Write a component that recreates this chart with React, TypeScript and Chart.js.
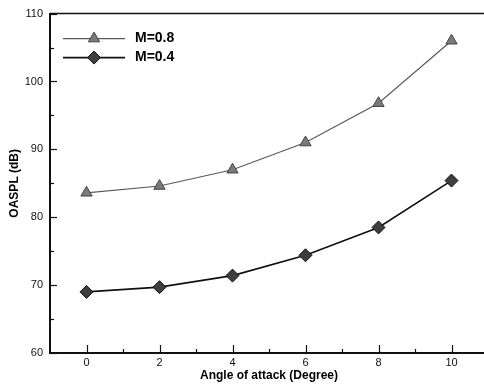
import React, { useEffect, useRef } from "react";
import { Chart, registerables } from "chart.js";
import { drawPoint } from "chart.js/helpers";

Chart.register(...registerables);

const angles = [0, 2, 4, 6, 8, 10];
const m08 = [83.6, 84.6, 87.0, 91.0, 96.8, 106.0];
const m04 = [69.0, 69.7, 71.4, 74.4, 78.5, 85.4];
const xTickValues = [0, 2, 4, 6, 8, 10];
const yTickValues = [60, 70, 80, 90, 100, 110];
const xMinorValues = [1, 3, 5, 7, 9];
const yMinorValues = [65, 75, 85, 95, 105];
const seriesLabels = ["M=0.8", "M=0.4"];

const FONT = "'Liberation Sans', Arial, Helvetica, sans-serif";

const framePlugin = {
  id: "frame",
  afterDraw(chart: any) {
    const { ctx, chartArea } = chart;
    const xs = chart.scales.x;
    const ys = chart.scales.y;
    ctx.save();
    ctx.strokeStyle = "#111";
    // top border
    ctx.lineWidth = 1.5;
    ctx.beginPath();
    ctx.moveTo(chartArea.left, chartArea.top);
    ctx.lineTo(chartArea.right, chartArea.top);
    ctx.stroke();
    // ticks
    ctx.lineWidth = 1.2;
    const bottom = chartArea.bottom;
    const left = chartArea.left;
    xTickValues.forEach((v) => {
      const px = Math.round(xs.getPixelForValue(v)) + 0.5;
      ctx.beginPath();
      ctx.moveTo(px, bottom);
      ctx.lineTo(px, bottom - 8);
      ctx.stroke();
    });
    xMinorValues.forEach((v) => {
      const px = Math.round(xs.getPixelForValue(v)) + 0.5;
      ctx.beginPath();
      ctx.moveTo(px, bottom);
      ctx.lineTo(px, bottom - 4);
      ctx.stroke();
    });
    yTickValues.forEach((v) => {
      const py = Math.round(ys.getPixelForValue(v)) + 0.5;
      ctx.beginPath();
      ctx.moveTo(left, py);
      ctx.lineTo(left + 7, py);
      ctx.stroke();
    });
    yMinorValues.forEach((v) => {
      const py = Math.round(ys.getPixelForValue(v)) + 0.5;
      ctx.beginPath();
      ctx.moveTo(left, py);
      ctx.lineTo(left + 4, py);
      ctx.stroke();
    });
    // legend
    chart.data.datasets.forEach((ds: any, i: number) => {
      const y = chartArea.top + 25 + i * 19;
      const x0 = chartArea.left + 13;
      const x1 = chartArea.left + 75;
      ctx.strokeStyle = ds.borderColor;
      ctx.lineWidth = ds.borderWidth;
      ctx.beginPath();
      ctx.moveTo(x0, y);
      ctx.lineTo(x1, y);
      ctx.stroke();
      ctx.fillStyle = ds.pointBackgroundColor;
      ctx.strokeStyle = ds.pointBorderColor;
      ctx.lineWidth = ds.pointBorderWidth;
      drawPoint(ctx, { pointStyle: ds.pointStyle, radius: ds.pointRadius, rotation: 0, borderWidth: ds.pointBorderWidth }, (x0 + x1) / 2, y);
      ctx.fillStyle = "#000";
      ctx.font = `bold 14px ${FONT}`;
      ctx.textBaseline = "middle";
      ctx.textAlign = "left";
      ctx.fillText(ds.label, chartArea.left + 85, y);
    });
    ctx.restore();
  },
};

export default function App() {
  const ref = useRef<HTMLCanvasElement | null>(null);
  useEffect(() => {
    if (!ref.current) return;
    const chart = new Chart(ref.current, {
      type: "line",
      data: {
        datasets: [
          {
            label: seriesLabels[0],
            data: angles.map((a, i) => ({ x: a, y: m08[i] })),
            borderColor: "#5a5a5a",
            borderWidth: 1.2,
            pointStyle: "triangle",
            pointRadius: 6.5,
            pointBackgroundColor: "#7a7a7a",
            pointBorderColor: "#444",
            pointBorderWidth: 1,
            tension: 0,
          },
          {
            label: seriesLabels[1],
            data: angles.map((a, i) => ({ x: a, y: m04[i] })),
            borderColor: "#111",
            borderWidth: 1.6,
            pointStyle: "rectRot",
            pointRadius: 6.5,
            pointBackgroundColor: "#3e3e3e",
            pointBorderColor: "#111",
            pointBorderWidth: 1,
            tension: 0,
          },
        ],
      },
      options: {
        animation: false,
        responsive: false,
        maintainAspectRatio: false,
        layout: { padding: { top: 10, right: 12, left: 0, bottom: 0 } },
        plugins: { legend: { display: false }, tooltip: { enabled: false } },
        scales: {
          x: {
            type: "linear",
            min: -1,
            max: 11,
            afterBuildTicks: (scale: any) => {
              scale.ticks = xTickValues.map((v) => ({ value: v }));
            },
            afterFit: (scale: any) => {
              scale.height = 33;
            },
            grid: { display: false, drawTicks: false },
            border: { display: true, color: "#111", width: 2 },
            ticks: {
              color: "#111",
              padding: 3,
              font: { family: FONT, size: 11 },
              maxRotation: 0,
              autoSkip: false,
            },
            title: {
              display: true,
              text: "Angle of attack (Degree)",
              color: "#000",
              font: { family: FONT, size: 12, weight: "bold" },
              padding: { top: 0, bottom: 3 },
            },
          },
          y: {
            type: "linear",
            min: 60,
            max: 110,
            afterBuildTicks: (scale: any) => {
              scale.ticks = yTickValues.map((v) => ({ value: v }));
            },
            afterFit: (scale: any) => {
              scale.width = 50;
            },
            grid: { display: false, drawTicks: false },
            border: { display: true, color: "#111", width: 2 },
            ticks: {
              color: "#111",
              padding: 7,
              font: { family: FONT, size: 11 },
              autoSkip: false,
            },
            title: {
              display: true,
              text: "OASPL (dB)",
              color: "#000",
              font: { family: FONT, size: 12, weight: "bold" },
              padding: { top: 7, bottom: 0 },
            },
          },
        },
      },
      plugins: [framePlugin],
    });
    return () => chart.destroy();
  }, []);
  return (
    <div style={{ position: "fixed", left: 0, top: 0, width: 484, height: 386, overflow: "hidden", background: "#fff" }}>
      <canvas ref={ref} width={500} height={386} style={{ display: "block", width: 500, height: 386 }} />
    </div>
  );
}
